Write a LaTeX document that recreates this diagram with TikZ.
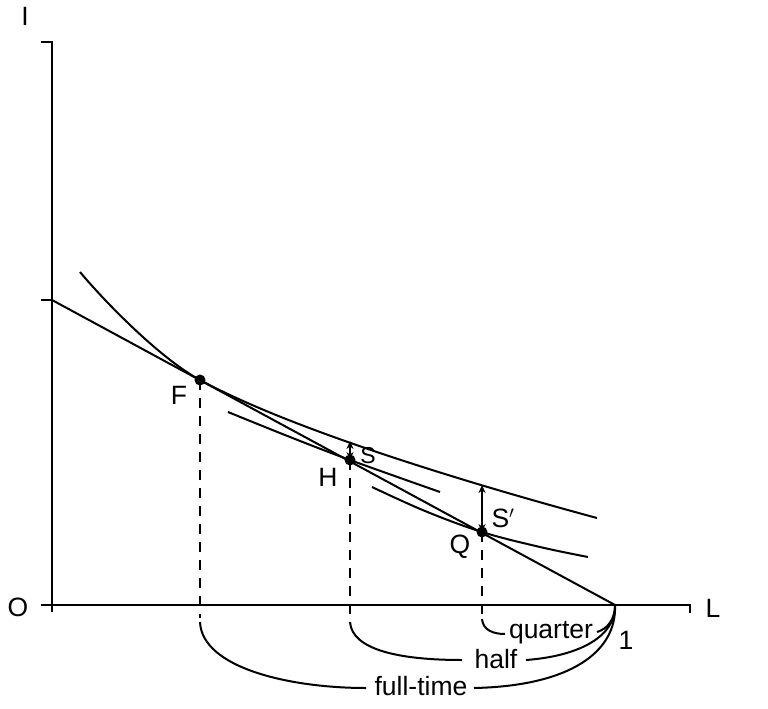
\documentclass[tikz,border=0pt]{standalone}
\usepackage{fontspec}
\setmainfont{Liberation Sans}
\usetikzlibrary{arrows.meta}
\begin{document}
\begin{tikzpicture}[x=1pt,y=-1pt, line width=2pt,
  lbl/.style={inner sep=0pt, font=\fontsize{26.5}{26.5}\selectfont},
  slbl/.style={inner sep=0pt, font=\fontsize{23}{23}\selectfont},
  dot/.style={circle, fill, inner sep=0pt, minimum size=11pt},
  dashv/.style={line width=1.8pt, dash pattern=on 10pt off 8pt},
  gap/.style={{Stealth[length=8pt,width=7pt]}-{Stealth[length=8pt,width=7pt]}, line width=1.7pt},
  curve/.style={line width=2pt}]
\useasboundingbox (0,0) rectangle (768,709);
% axes
\coordinate (ytop) at (52,42);
\coordinate (ytopL) at (41,42);
\coordinate (ybot) at (52,612);
\coordinate (xleft) at (41,605);
\coordinate (xright) at (690,605);
\coordinate (xrightT) at (690,613);
\coordinate (yint) at (52,300);
\coordinate (yintL) at (41,300);
\coordinate (xint) at (615,605);
\coordinate (xintT) at (615,612);
\draw (ytopL) -- (ytop) -- (ybot);
\draw (xleft) -- (xright) -- (xrightT);
\draw (yintL) -- (yint);
\draw (xint) -- (xintT);
\node[lbl] (Ilab) at (25,16) {I};
\node[lbl] (Olab) at (18,607) {O};
\node[lbl] (Llab) at (713,608) {L};
% budget line
\node[dot] (F) at (200,380) {};
\node[dot] (H) at (350,460) {};
\node[dot] (Q) at (482,532) {};
\draw (yint) -- (xint);
% indifference curves
\coordinate (u0) at (80,272);
\coordinate (u1) at (597,518);
\draw[curve] (u0) .. controls (105,302) and (160,358.3) .. (F.center)
  .. controls (300,434.2) and (497,491) .. (u1);
\draw[curve] plot[smooth, tension=0.6] coordinates {(228,412) (290,437) (350,460) (440,492)};
\draw[curve] plot[smooth, tension=0.6] coordinates {(372,487) (425,511) (482,532) (540,547) (588,557)};
% S gaps
\coordinate (Stop) at (350,441);
\coordinate (Sptop) at (482,485);
\draw[gap] (Stop) -- (H.center);
\draw[gap] (Sptop) -- (Q.center);
\node[lbl] (Flab) at (179,395) {F};
\node[lbl] (Hlab) at (328,477) {H};
\node[lbl] (Qlab) at (460,547) {Q};
\node[slbl] (Slab) at (368,456) {S};
\node[lbl] (Splab) at (503,518) {S$'$};
% dashed verticals
\coordinate (Fd) at (200,618);
\coordinate (Hd) at (350,618);
\coordinate (Qd) at (482,614);
\draw[dashv] (F.center) -- (Fd);
\draw[dashv] (H.center) -- (Hd);
\draw[dashv] (Q.center) -- (Qd);
% braces
\node[lbl, anchor=base] (quarter) at (551,638) {quarter};
\node[lbl, anchor=base] (half) at (496,668) {half};
\node[lbl, anchor=base] (full) at (421,695) {full-time};
\node[lbl] (one) at (626,640) {1};
\coordinate (q1) at (482,619);
\coordinate (q2) at (505,634);
\coordinate (q3) at (597,632);
\coordinate (h1) at (350,622);
\coordinate (h2) at (462,660);
\coordinate (h3) at (526,660);
\coordinate (f1) at (200,622);
\coordinate (f2) at (366,688);
\coordinate (f3) at (474,688);
\draw[curve] (q1) .. controls (483,630) and (493,634) .. (q2);
\draw[curve] (q3) .. controls (607,629) and (615,620) .. (xint);
\draw[curve] (h1) .. controls (352,650) and (400,660) .. (h2);
\draw[curve] (h3) .. controls (580,656) and (616,636) .. (xint);
\draw[curve] (f1) .. controls (202,668) and (290,688) .. (f2);
\draw[curve] (f3) .. controls (570,686) and (617,652) .. (xint);
\end{tikzpicture}
\end{document}
